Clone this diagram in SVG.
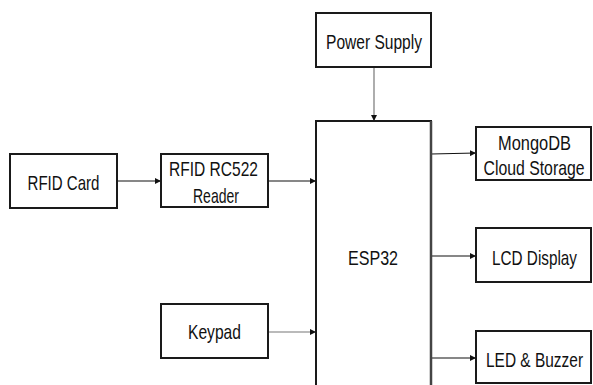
<svg xmlns="http://www.w3.org/2000/svg" width="593" height="385" viewBox="0 0 593 385">
<defs>
<style>
.box{fill:#fff;stroke:#1a1a1a;stroke-width:2}
.lbl{font-family:"Liberation Sans","DejaVu Sans",Arial,sans-serif;font-size:20px;fill:#111;text-anchor:middle}
.con{stroke:#111;stroke-width:1.2;fill:none}
.gray{stroke:#777}
</style>
<marker id="ah" viewBox="0 0 10 10" refX="10" refY="5" markerWidth="6" markerHeight="6" markerUnits="userSpaceOnUse" orient="auto">
<path d="M0,0 L10,5 L0,10 z" fill="#111"/>
</marker>
</defs>
<rect width="593" height="385" fill="#fff"/>
<g id="connectors">
<line class="con" x1="117" y1="181" x2="161" y2="181" marker-end="url(#ah)"/>
<line class="con" x1="268" y1="181" x2="316" y2="181" marker-end="url(#ah)"/>
<line class="con gray" x1="268" y1="332" x2="316" y2="332" marker-end="url(#ah)"/>
<line class="con gray" x1="374" y1="67" x2="374" y2="121" marker-end="url(#ah)"/>
<line class="con" x1="431" y1="154" x2="476" y2="153" marker-end="url(#ah)"/>
<line class="con" x1="431" y1="256" x2="476" y2="256" marker-end="url(#ah)"/>
<line class="con" x1="431" y1="358" x2="476" y2="358" marker-end="url(#ah)"/>
</g>
<g id="rfid-card">
<rect class="box" x="10" y="154" width="107" height="54"/>
<text class="lbl" transform="translate(63.5,190) scale(0.78,1)" textLength="92.3" lengthAdjust="spacingAndGlyphs">RFID Card</text>
</g>
<g id="rfid-reader">
<rect class="box" x="161" y="154" width="107" height="53"/>
<text class="lbl" transform="translate(213.5,176) scale(0.78,1)" textLength="114.1" lengthAdjust="spacingAndGlyphs">RFID RC522</text>
<text class="lbl" transform="translate(216,203) scale(0.78,1)" textLength="59" lengthAdjust="spacingAndGlyphs">Reader</text>
</g>
<g id="keypad">
<rect class="box" x="161" y="304" width="107" height="54"/>
<text class="lbl" transform="translate(214.5,339) scale(0.78,1)" textLength="67.9" lengthAdjust="spacingAndGlyphs">Keypad</text>
</g>
<g id="power-supply">
<rect class="box" x="316" y="13" width="115" height="54"/>
<text class="lbl" transform="translate(374,49) scale(0.78,1)" textLength="123.1" lengthAdjust="spacingAndGlyphs">Power Supply</text>
</g>
<g id="esp32">
<rect class="box" x="316" y="121" width="115" height="280"/>
<line x1="431" y1="121" x2="431" y2="390" stroke="#444" stroke-width="2.5"/>
<text class="lbl" transform="translate(373,265) scale(0.78,1)" textLength="64.1" lengthAdjust="spacingAndGlyphs">ESP32</text>
</g>
<g id="mongodb">
<rect class="box" x="476" y="127" width="115" height="53"/>
<text class="lbl" transform="translate(534.5,150) scale(0.78,1)" textLength="93.6" lengthAdjust="spacingAndGlyphs">MongoDB</text>
<text class="lbl" transform="translate(534,175) scale(0.78,1)" textLength="129.5" lengthAdjust="spacingAndGlyphs">Cloud Storage</text>
</g>
<g id="lcd-display">
<rect class="box" x="476" y="228" width="115" height="54"/>
<text class="lbl" transform="translate(534.5,265) scale(0.78,1)" textLength="109" lengthAdjust="spacingAndGlyphs">LCD Display</text>
</g>
<g id="led-buzzer">
<rect class="box" x="476" y="331" width="115" height="52"/>
<text class="lbl" transform="translate(534.5,367) scale(0.78,1)" textLength="124.4" lengthAdjust="spacingAndGlyphs">LED &amp; Buzzer</text>
</g>
</svg>
